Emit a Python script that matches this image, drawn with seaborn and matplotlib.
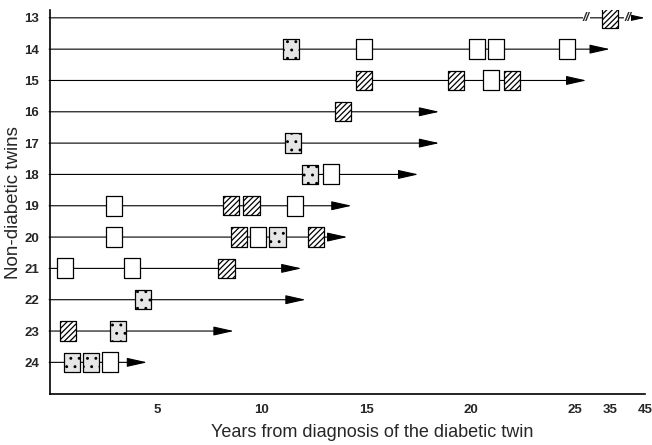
import numpy as np
import pandas as pd
import matplotlib
matplotlib.use("Agg")
from matplotlib import pyplot as plt
import seaborn as sns

# twins (rows) and follow-up length in years (end of the arrow)
twins = [13, 14, 15, 16, 17, 18, 19, 20, 21, 22, 23, 24]
follow_up = [45, 35, 28.3, 18.5, 18.5, 17.5, 14.3, 14.1, 11.9, 12.1, 8.65, 4.5]

# events: twin, year, kind
ev_twin = [13,
           14, 14, 14, 14, 14,
           15, 15, 15, 15,
           16, 17, 18, 18,
           19, 19, 19, 19,
           20, 20, 20, 20, 20,
           21, 21, 21,
           22, 23, 23,
           24, 24, 24]
ev_year = [35,
           11.4, 14.9, 20.3, 21.2, 24.6,
           14.9, 19.3, 21.0, 22.0,
           13.9, 11.5, 12.3, 13.3,
           2.9, 8.5, 9.5, 11.6,
           2.9, 8.9, 9.8, 10.75, 12.6,
           0.57, 3.75, 8.3,
           4.3, 0.7, 3.1,
           0.88, 1.8, 2.7]
ev_kind = ["hatch",
           "dot", "open", "open", "open", "open",
           "hatch", "hatch", "open", "hatch",
           "hatch", "dot", "dot", "open",
           "open", "hatch", "hatch", "open",
           "open", "hatch", "open", "dot", "hatch",
           "open", "open", "hatch",
           "dot", "hatch", "dot",
           "dot", "dot", "open"]

xticks = [5, 10, 15, 20, 25, 35, 45]
breaks_13 = [28.3, 40]

# broken axis: years after 25 are squeezed
K = 0.168
def fwd(x):
    x = np.asarray(x, dtype=float)
    return np.where(x <= 25, x, 25 + (x - 25) * K)
def inv(t):
    t = np.asarray(t, dtype=float)
    return np.where(t <= 25, t, 25 + (t - 25) / K)

sns.set_style("white")
plt.rcParams["font.family"] = ["Liberation Sans", "DejaVu Sans"]
plt.rcParams["hatch.linewidth"] = 0.9

fig = plt.figure(figsize=(6.52, 4.45), dpi=100)
ax = fig.add_axes([50 / 652, 1 - 394.3 / 445, 595 / 652, 384.3 / 445])
ax.set_xscale("function", functions=(fwd, inv))

# arrows
for tw, end in zip(twins, follow_up):
    ax.annotate("", xy=(end, tw), xytext=(-0.2, tw),
                arrowprops=dict(arrowstyle="-|>,head_length=1.25,head_width=0.28",
                                mutation_scale=10, lw=0.8, color="black",
                                shrinkA=0, shrinkB=0), zorder=1)

df = pd.DataFrame({"twin": ev_twin, "year": ev_year, "kind": ev_kind})
box = [(-0.42, -0.5), (0.42, -0.5), (0.42, 0.5), (-0.42, 0.5), (-0.42, -0.5)]
styles = {"open": dict(facecolor="white", hatch=None),
          "hatch": dict(facecolor="white", hatch="//////"),
          "dot": dict(facecolor="#e6e6e6", hatch="..")}
for kind, st in styles.items():
    sub = df[df["kind"] == kind]
    sns.scatterplot(data=sub, x="year", y="twin", ax=ax, marker=box, s=195,
                    color=st["facecolor"], edgecolor="black", linewidth=0.9,
                    hatch=st["hatch"], zorder=3, legend=False)

for b in breaks_13:
    ax.text(b, 13, "//", ha="center", va="center", fontsize=9, style="italic",
            fontweight="bold", zorder=4,
            bbox=dict(facecolor="white", edgecolor="none", pad=0.3))

ax.set_xlim(-0.16, 45)
ax.set_ylim(25.02, 12.75)
ax.set_xticks(xticks)
ax.set_xticklabels([str(t) for t in xticks], fontsize=9.5, fontweight="bold")
ax.set_yticks(twins)
ax.set_yticklabels([str(t) for t in twins], fontsize=9.5, fontweight="bold")
ax.tick_params(axis="x", direction="in", length=6, width=0.9, pad=7)
ax.tick_params(axis="y", direction="out", length=3, width=0.9, pad=5)
ax.xaxis.set_minor_locator(matplotlib.ticker.NullLocator())

for s in ["top", "right"]:
    ax.spines[s].set_visible(False)
for s in ["left", "bottom"]:
    ax.spines[s].set_linewidth(1.2)
    ax.spines[s].set_color("black")

ax.set_xlabel("Years from diagnosis of the diabetic twin", fontsize=13)
ax.set_ylabel("Non-diabetic twins", fontsize=13.5)
ax.xaxis.set_label_coords(0.541, -0.078)
ax.yaxis.set_label_coords(-0.047, 0.5)

fig.savefig("out.png", dpi=100)
